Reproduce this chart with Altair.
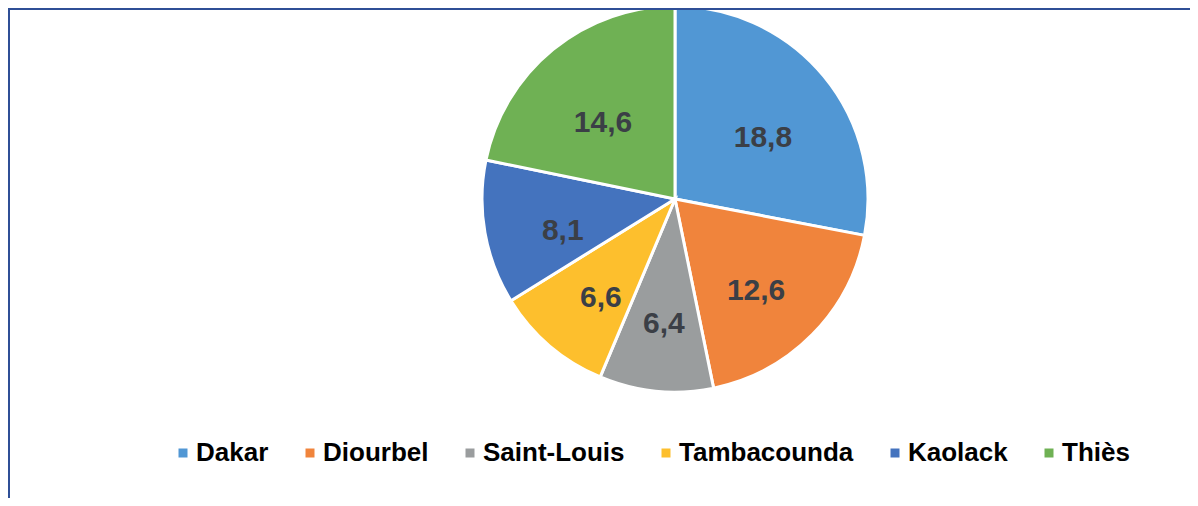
import altair as alt
import pandas as pd

regions = ["Dakar", "Diourbel", "Saint-Louis", "Tambacounda", "Kaolack", "Thiès"]
values = [18.8, 12.6, 6.4, 6.6, 8.1, 14.6]
colors = ["#5197D4", "#F0843C", "#9A9D9E", "#FDBF2D", "#4473BE", "#6FB154"]

df = pd.DataFrame({
    "region": regions,
    "value": values,
    "idx": list(range(len(regions))),
    "label": [f"{v:.1f}".replace(".", ",") for v in values],
})

W, H = 1182, 490
CX, CY, R = 667, 191, 193

color_scale = alt.Scale(domain=regions, range=colors)

base = alt.Chart(df).encode(
    theta=alt.Theta("value:Q", stack=True),
    order=alt.Order("idx:Q"),
)

pie = base.mark_arc(
    x=CX, y=CY, outerRadius=R, stroke="white", strokeWidth=3
).encode(
    color=alt.Color(
        "region:N",
        scale=color_scale,
        sort=regions,
        legend=alt.Legend(
            title=None,
            orient="none",
            direction="horizontal",
            legendX=162,
            legendY=432,
            padding=0,
            symbolType="square",
            symbolSize=81,
            symbolStrokeWidth=0,
            labelFont="Liberation Sans",
            labelFontWeight="bold",
            labelFontSize=26,
            labelColor="#000000",
            labelOffset=0,
            labelLimit=400,
            columnPadding=28,
            columns=6,
        ),
    )
)

labels = base.mark_text(
    x=CX, y=CY, radius=114, dy=12,
    font="Liberation Sans", fontWeight="bold", fontSize=30,
    align="center", baseline="middle",
).encode(
    text="label:N",
    detail="region:N",
    color=alt.value("#3B3F46"),
)

border_data = alt.Data(values=[{"k": 1}])
left_line = alt.Chart(border_data).mark_rule(color="#2F4F96", strokeWidth=2).encode(
    x=alt.value(1), y=alt.value(0), y2=alt.value(H)
)
top_line = alt.Chart(border_data).mark_rule(color="#2F4F96", strokeWidth=2).encode(
    y=alt.value(1), x=alt.value(0), x2=alt.value(W)
)

chart = alt.layer(pie, labels, left_line, top_line).properties(
    width=W, height=H,
    autosize=alt.AutoSizeParams(type="none"),
    padding=0,
).configure_view(stroke=None)

chart.save("out.html", embed_options={"renderer": "svg", "actions": False})
